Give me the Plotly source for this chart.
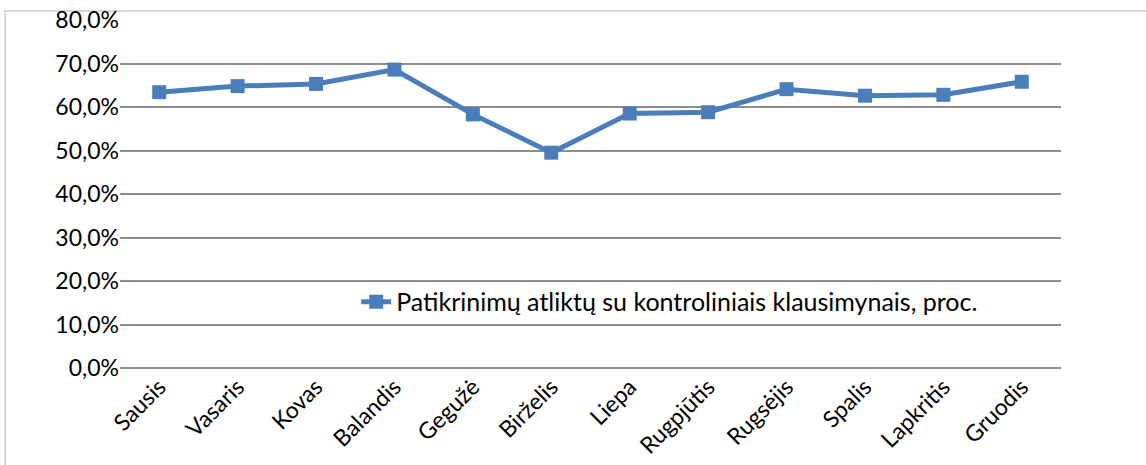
import plotly.graph_objects as go

months = ["Sausis", "Vasaris", "Kovas", "Balandis", "Gegužė", "Birželis",
          "Liepa", "Rugpjūtis", "Rugsėjis", "Spalis", "Lapkritis", "Gruodis"]
values = [0.634, 0.648, 0.653, 0.686, 0.583, 0.495,
          0.585, 0.588, 0.641, 0.626, 0.628, 0.658]
series_name = "Patikrinimų atliktų su kontroliniais klausimynais, proc."

blue = "#4a7ebb"
font_family = "Lato, Open Sans, sans-serif"

fig = go.Figure()
fig.add_trace(go.Scatter(
    x=months, y=values, name=series_name, mode="lines+markers",
    line=dict(color=blue, width=5),
    marker=dict(symbol="square", size=14, color=blue),
    showlegend=True,
))

fig.update_layout(
    width=1146, height=465,
    margin=dict(l=120, r=85, t=20, b=97, autoexpand=False),
    paper_bgcolor="white", plot_bgcolor="white",
    separators=",.",
    font=dict(family=font_family, size=23, color="#000000"),
    showlegend=True,
    legend=dict(x=0.251, y=0.19, xanchor="left", yanchor="middle",
                bgcolor="rgba(255,255,255,0)", font=dict(size=25)),
    xaxis=dict(type="category", tickangle=-45, showgrid=False,
               showline=False, ticks="", tickfont=dict(size=23),
               range=[-0.5, 11.5], automargin=False),
    yaxis=dict(range=[0, 0.8], dtick=0.1, tickformat=".1%",
               showgrid=True, gridcolor="#8c8c8c", gridwidth=2,
               zeroline=True, zerolinecolor="#8c8c8c", zerolinewidth=2,
               showline=False, ticks="", tickfont=dict(size=23),
               automargin=False),
)

# outer chart-area border (light grey), partly outside the frame
fig.add_shape(type="rect", xref="paper", yref="paper",
              x0=-0.1222, x1=1.2, y0=-0.6, y1=1.0259,
              line=dict(color="#d9d9d9", width=2), layer="below")

fig.write_html("out.html", config={"displayModeBar": False},
               post_script="document.body.style.margin='0';document.body.style.overflow='hidden';")
